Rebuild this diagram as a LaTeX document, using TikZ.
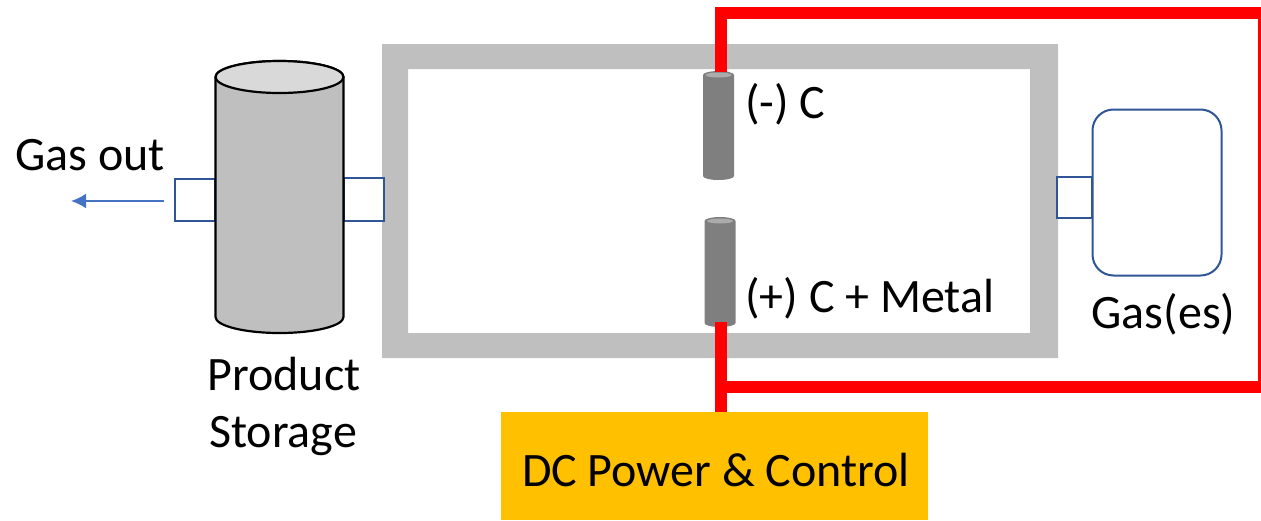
\documentclass[tikz,border=0pt]{standalone}
\usepackage{fontspec}
\usetikzlibrary{arrows.meta}
\setmainfont{Carlito}
\definecolor{framegrey}{HTML}{BFBFBF}
\definecolor{rimgrey}{HTML}{D9D9D9}
\definecolor{rodgrey}{HTML}{7F7F7F}
\definecolor{rodrim}{HTML}{ABABAB}
\definecolor{portblue}{HTML}{2F5597}
\definecolor{arrowblue}{HTML}{4472C4}
\definecolor{powerorange}{HTML}{FFC000}
\definecolor{wirered}{HTML}{FF0000}
\tikzset{
  port/.style={draw=portblue,line width=2pt,fill=white},
  wire/.style={draw=wirered,line width=12pt},
  lbl/.style={font=\fontsize{48}{56}\selectfont,text=black,inner sep=0pt,align=center},
}
\begin{document}
\begin{tikzpicture}[x=1pt,y=-1pt]
\useasboundingbox (0,0) rectangle (1261,520);
% reactor frame
\fill[framegrey,even odd rule] (382,44) rectangle (1058,358) (408,69) rectangle (1030,333);
% ports
\draw[port] (174.5,178.5) rectangle (215,220.5);
\draw[port] (344,177.5) rectangle (384,220.5);
\draw[port] (1056.5,176.5) rectangle (1092,218);
\node[port,rounded corners=21pt,minimum width=129pt,minimum height=166pt,inner sep=0pt] (gas) at (1157,192.5) {};
% storage
\draw[black,line width=2.2pt,fill=framegrey] (215.5,77) -- (215.5,317) arc[start angle=180,end angle=0,x radius=64,y radius=16] -- (343.5,77) arc[start angle=0,end angle=-180,x radius=64,y radius=16];
\draw[black,line width=2.2pt,fill=rimgrey] (279.5,77) ellipse[x radius=64,y radius=16];
% electrodes
\fill[rodgrey] (703,75) -- (703,176) arc[start angle=180,end angle=0,x radius=15.5,y radius=4] -- (734,75) arc[start angle=0,end angle=-180,x radius=15.5,y radius=4];
\fill[rodgrey] (704.5,221) -- (704.5,323) arc[start angle=180,end angle=0,x radius=15.5,y radius=4] -- (735.5,221) arc[start angle=0,end angle=-180,x radius=15.5,y radius=4];
\fill[rodrim] (720,221) ellipse[x radius=13,y radius=2.5];
\fill[rodrim] (718.5,75) ellipse[x radius=13,y radius=2.5];
\coordinate (cathode) at (720.5,72);
\coordinate (anode) at (720.5,322);
% power
\node[fill=powerorange,minimum width=427pt,minimum height=108pt,inner sep=0pt] (power) at (714.5,466) {};
\node[lbl,anchor=base] (powertext) at (716,486) {DC Power \& Control};
% wires
\coordinate (topleft) at (720.5,12.5);
\coordinate (topright) at (1264,12.5);
\coordinate (botright) at (1264,386.5);
\coordinate (botleft) at (720.5,386.5);
\draw[wire] (cathode) -- (topleft) -- (topright) -- (botright) -- (botleft);
\draw[wire] (anode) -- (anode |- power.north);
% arrow
\coordinate (arrowstart) at (164,201);
\coordinate (arrowend) at (71,201);
\draw[arrowblue,line width=2.2pt,-{Latex[length=15pt,width=15pt]}] (arrowstart) -- (arrowend);
% labels
\node[lbl,anchor=base] (gasout) at (90,170) {Gas out};
\node[lbl,anchor=base west] (neg) at (745,118) {(-) C};
\node[lbl,anchor=base west] (pos) at (745,312) {(+) C + Metal};
\node[lbl,anchor=base] (gases) at (1163.5,328) {Gas(es)};
\node[lbl,anchor=base] (prod) at (284,390) {Product};
\node[lbl,anchor=base] (stor) at (283,447) {Storage};
\end{tikzpicture}
\end{document}
